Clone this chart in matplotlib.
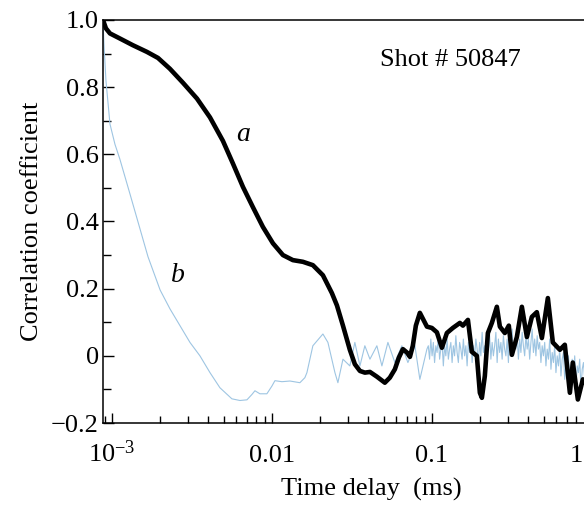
import numpy as np
import matplotlib
matplotlib.use('Agg')
import matplotlib.pyplot as plt
from matplotlib.ticker import MultipleLocator, LogLocator, NullFormatter

plt.rcParams['font.family'] = ['Liberation Serif', 'DejaVu Serif']
plt.rcParams['mathtext.fontset'] = 'custom'
plt.rcParams['mathtext.rm'] = 'Liberation Serif'
plt.rcParams['mathtext.it'] = 'Liberation Serif:italic'

# curve a (thick black), time in ms
time_a = [0.000879, 0.000917, 0.000972, 0.00112, 0.00135, 0.001655, 0.00194, 0.0023,
          0.00278, 0.0034, 0.0041, 0.00494, 0.0057, 0.00659, 0.0076, 0.00878,
          0.01015, 0.01172, 0.01352, 0.01562, 0.01803, 0.02083, 0.0237, 0.0255,
          0.0278, 0.0307, 0.033, 0.0355, 0.0381, 0.041, 0.0453, 0.0508, 0.0546,
          0.0587, 0.0622, 0.0659, 0.0698, 0.0729, 0.076, 0.0794, 0.0841, 0.0931,
          0.1, 0.1075, 0.1155, 0.1241, 0.1352, 0.1496, 0.1563, 0.168, 0.1778,
          0.191, 0.1995, 0.2054, 0.2143, 0.2239, 0.2371, 0.2548, 0.2661, 0.2858,
          0.3027, 0.3162, 0.3398, 0.3652, 0.3926, 0.4217, 0.4529, 0.487, 0.5309,
          0.5702, 0.631, 0.6776, 0.7289, 0.7603, 0.8175, 0.8788, 0.9716]
corr_a = [1.0, 0.975, 0.96, 0.945, 0.925, 0.905, 0.887, 0.855,
          0.813, 0.766, 0.71, 0.64, 0.573, 0.503, 0.443, 0.384,
          0.335, 0.30, 0.285, 0.28, 0.27, 0.24, 0.187, 0.15,
          0.09, 0.018, -0.025, -0.045, -0.05, -0.048, -0.062, -0.08, -0.065,
          -0.04, -0.005, 0.02, 0.01, -0.003, 0.03, 0.09, 0.128, 0.087,
          0.083, 0.07, 0.024, 0.068, 0.083, 0.098, 0.09, 0.107, 0.012,
          0.0, -0.11, -0.125, -0.06, 0.068, 0.098, 0.146, 0.087, 0.068,
          0.09, 0.003, 0.056, 0.146, 0.056, 0.116, 0.13, 0.053, 0.172,
          0.04, 0.018, 0.033, -0.11, -0.02, -0.13, -0.07, -0.1]

# curve b (thin blue), smooth part
time_b = [0.000879, 0.000891, 0.000917, 0.000972, 0.001044, 0.00112, 0.001296, 0.001496,
          0.00168, 0.002, 0.002304, 0.00266, 0.003073, 0.003548, 0.0041, 0.00473,
          0.00562, 0.00631, 0.00698, 0.0075, 0.00783, 0.00841, 0.0093, 0.01,
          0.01044, 0.01155, 0.01296, 0.01496, 0.01607, 0.01655, 0.01803, 0.02083,
          0.02239, 0.02477, 0.02585, 0.0278, 0.0307, 0.033, 0.0355, 0.0381, 0.041,
          0.0453, 0.0487, 0.0531, 0.0587, 0.0649, 0.0708, 0.0783, 0.0841, 0.0931]
corr_b = [1.0, 0.93, 0.82, 0.69, 0.63, 0.586, 0.482, 0.378,
          0.295, 0.196, 0.14, 0.09, 0.04, 0.0, -0.05, -0.095,
          -0.128, -0.133, -0.131, -0.115, -0.104, -0.113, -0.113, -0.09,
          -0.074, -0.077, -0.075, -0.08, -0.065, -0.05, 0.03, 0.065,
          0.04, -0.05, -0.08, -0.01, -0.03, 0.04, -0.03, 0.03, -0.01,
          0.03, -0.03, 0.04, -0.02, 0.03, -0.02, 0.03, -0.07, 0.02]

# curve b, noisy tail (0.095 .. 0.97 ms)
corr_b_tail = [0.03, -0.01, 0.05, 0.0, 0.04, -0.02, 0.03, 0.01, 0.06, -0.01,
               0.02, 0.04, -0.03, 0.03, 0.0, 0.05, -0.01, 0.02, 0.04, -0.02,
               0.03, 0.0, 0.06, 0.01, -0.02, 0.04, 0.02, -0.01, 0.05, 0.0,
               0.03, -0.03, 0.04, 0.01, 0.06, -0.02, 0.03, 0.0, 0.05, 0.02,
               -0.02, 0.04, 0.0, 0.07, 0.01, 0.03, -0.03, 0.05, 0.02, 0.06,
               -0.01, 0.04, 0.0, 0.03, 0.07, -0.02, 0.05, 0.01, 0.04, -0.01,
               0.06, 0.02, 0.0, 0.05, -0.02, 0.07, 0.03, 0.08, 0.0, 0.04,
               0.02, 0.06, -0.01, 0.05, 0.01, 0.07, 0.03, 0.0, 0.06, 0.02,
               0.05, -0.01, 0.04, 0.08, 0.01, 0.05, 0.0, 0.06, 0.02, 0.04,
               -0.02, 0.03, 0.0, 0.04, -0.03, 0.02, -0.01, 0.05, -0.04, 0.01,
               -0.02, 0.03, -0.05, 0.0, -0.03, 0.02, -0.06, -0.01, 0.01, -0.07,
               -0.02, -0.04, 0.0, -0.08, -0.03, -0.01, -0.06, 0.0, -0.09, -0.03,
               -0.05, -0.01, -0.1, -0.04, -0.02, -0.07, -0.03, -0.09, -0.05, -0.02]
time_b_tail = np.geomspace(0.095, 0.97, len(corr_b_tail))

xticks = [0.001, 0.01, 0.1, 1]
xticklabels = ['$10^{-3}$', '0.01', '0.1', '']
yticks = [-0.2, 0, 0.2, 0.4, 0.6, 0.8, 1.0]
yticklabels = ['\u22120.2', '0', '0.2', '0.4', '0.6', '0.8', '1.0']

fig = plt.figure(figsize=(5.84, 5.08), dpi=100)
ax = fig.add_axes([103 / 584, 85 / 508, 537 / 584, 403 / 508])

ax.plot(list(time_b) + list(time_b_tail), list(corr_b) + list(corr_b_tail),
        color='#9ec5e2', lw=0.8)
ax.plot(time_a, corr_a, color='black', lw=3.3, solid_joinstyle='round')

ax.set_xscale('log')
ax.set_xlim(0.000879, 2.0)
ax.set_ylim(-0.2, 1.0)

ax.set_xticks(xticks)
ax.set_xticklabels(xticklabels)
ax.xaxis.set_minor_locator(LogLocator(base=10, subs=np.arange(2, 10)))
ax.xaxis.set_minor_formatter(NullFormatter())
ax.set_yticks(yticks)
ax.set_yticklabels(yticklabels)
ax.yaxis.set_minor_locator(MultipleLocator(0.1))

for s in ax.spines.values():
    s.set_linewidth(1.1)
ax.spines['right'].set_visible(False)

ax.tick_params(axis='both', which='both', direction='in', labelsize=19, width=1.0)
ax.tick_params(axis='y', which='major', length=8, pad=3)
ax.tick_params(axis='y', which='minor', length=5.5)
ax.tick_params(axis='x', which='major', length=7, pad=28)
ax.tick_params(axis='x', which='minor', length=5)
for lab in ax.get_xticklabels():
    lab.set_va('baseline')

# the "1" tick sits at the right edge of the picture
fig.text(0.998, 46 / 508, '1', fontsize=19, ha='right', va='baseline')

ax.set_xlabel('Time delay  (ms)', fontsize=19, labelpad=8)
ax.set_ylabel('Correlation coefficient', fontsize=19, labelpad=6)

ax.text(0.0066, 0.66, 'a', fontsize=20, style='italic', ha='center', va='center')
ax.text(0.0026, 0.24, 'b', fontsize=20, style='italic', ha='center', va='center')
ax.text(0.13, 0.88, 'Shot # 50847', fontsize=19, ha='center', va='center')

fig.savefig('out.png', dpi=100)
